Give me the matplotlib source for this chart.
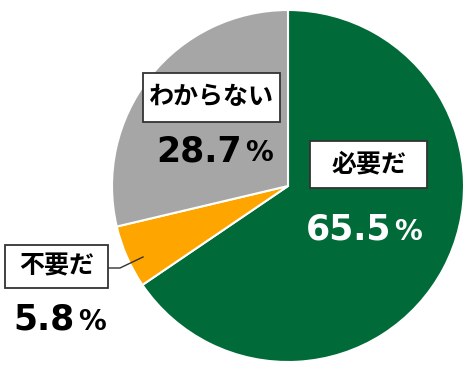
import matplotlib
matplotlib.use("Agg")
import matplotlib.pyplot as plt
from matplotlib.patches import Rectangle

plt.rcParams['font.family'] = ['Noto Sans CJK JP', 'DejaVu Sans']

# data (clockwise from 12 o'clock)
labels = ['必要だ', '不要だ', 'わからない']
values = [65.5, 5.8, 28.7]
colors = ['#006B38', '#FFA500', '#A6A6A6']

W, H = 468, 372
fig = plt.figure(figsize=(W / 100, H / 100), dpi=100, facecolor='white')
ax = fig.add_axes([0, 0, 1, 1])

ax.pie(values, colors=colors, startangle=90, counterclock=False,
       center=(288, H - 186), radius=176, frame=True,
       wedgeprops=dict(edgecolor='white', linewidth=1.5))
ax.set_xlim(0, W)
ax.set_ylim(0, H)
ax.set_aspect('equal')
ax.axis('off')

# label boxes: (x0, y0_px, x1, y1_px), number position, colour
layout = [
    dict(box=(310, 141, 427, 188), num_x=391, base=240, color='white'),
    dict(box=(5, 245, 108, 288), num_x=75, base=330, color='black'),
    dict(box=(143, 73, 280, 122), num_x=242, base=161, color='black'),
]

for lab, val, lo in zip(labels, values, layout):
    x0, y0, x1, y1 = lo['box']
    ax.add_patch(Rectangle((x0, H - y1), x1 - x0, y1 - y0, facecolor='white',
                           edgecolor='#333333', linewidth=1.3, zorder=5))
    ax.text((x0 + x1) / 2, H - (y0 + y1) / 2, lab, ha='center', va='center',
            fontsize=18, fontweight='bold', color='black', zorder=6)
    ax.text(lo['num_x'], H - lo['base'], f'{val:.1f}', ha='right',
            va='baseline', fontsize=25, fontweight='bold', color=lo['color'],
            family='DejaVu Sans', zorder=6)
    ax.text(lo['num_x'] + 3, H - lo['base'], '%', ha='left', va='baseline',
            fontsize=20, fontweight='bold', color=lo['color'],
            family='DejaVu Sans', zorder=6)

# leader line for the small slice
ax.plot([108, 120, 143], [H - 268, H - 268, H - 257], color='#333333',
        linewidth=1.0, zorder=4)

fig.savefig('out.png', dpi=100, facecolor='white')
